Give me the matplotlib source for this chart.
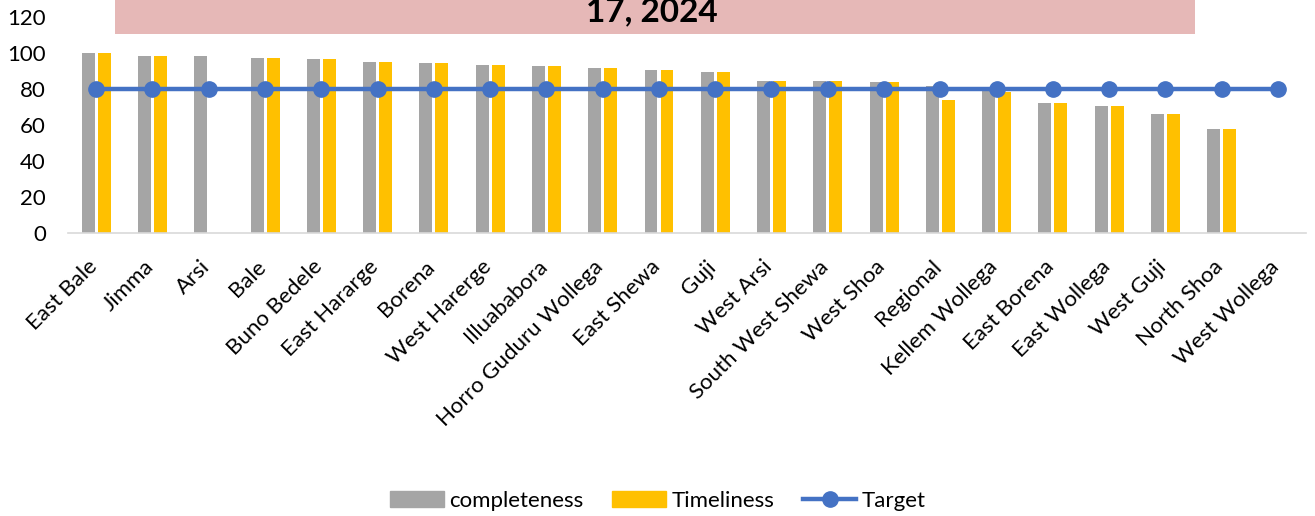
import matplotlib
matplotlib.use("Agg")
import matplotlib.pyplot as plt
import numpy as np
from matplotlib.patches import Rectangle, Patch
from matplotlib.lines import Line2D
from matplotlib.transforms import ScaledTranslation

categories = ["East Bale", "Jimma", "Arsi", "Bale", "Buno Bedele", "East Hararge",
              "Borena", "West Harerge", "Illuababora", "Horro Guduru Wollega",
              "East Shewa", "Guji", "West Arsi", "South West Shewa", "West Shoa",
              "Regional", "Kellem Wollega", "East Borena", "East Wollega",
              "West Guji", "North Shoa", "West Wollega"]
completeness = [100, 98.6, 98.1, 97.3, 96.6, 95.1, 94.2, 93.1, 92.9, 91.8,
                90.8, 89.4, 84.6, 84.2, 84.0, 81.8, 80.8, 72.5, 70.6, 66.0, 57.8, 0]
timeliness = [100, 98.6, 0, 97.3, 96.6, 95.1, 94.2, 93.1, 92.9, 91.8,
              90.8, 89.4, 84.6, 84.2, 84.0, 74.0, 78.6, 72.5, 70.6, 66.0, 57.8, 0]
target = [80] * len(categories)
title_text = "17, 2024"

plt.rcParams['font.family'] = ['Lato', 'DejaVu Sans']

fig = plt.figure(figsize=(13.15, 5.16), dpi=100)
ax = fig.add_axes([68/1315, 1-233/516, (1306-68)/1315, (233-17)/516])

x = np.arange(len(categories))
bw = 0.23
ax.bar(x - 0.14, completeness, width=bw, color="#A5A5A5", zorder=2)
ax.bar(x + 0.145, timeliness, width=bw, color="#FFC000", zorder=2)
ax.plot(x, target, color="#4472C4", lw=3.2, marker="o", markersize=11, zorder=3)

ax.set_ylim(0, 120)
ax.set_yticks(range(0, 121, 20))
ax.set_xlim(-0.5, len(categories) - 0.5)
ax.set_xticks(x)
ax.set_xticklabels(categories, rotation=45, ha="right", va="top",
                   rotation_mode="default", fontsize=16)
ax.tick_params(axis="both", length=0, labelsize=16)
ax.tick_params(axis="x", pad=17)
ax.tick_params(axis="y", pad=16)
shift = ScaledTranslation(5/100, 0, fig.dpi_scale_trans)
for lbl in ax.get_xticklabels():
    lbl.set_transform(lbl.get_transform() + shift)
for s in ["top", "right", "left"]:
    ax.spines[s].set_visible(False)
ax.spines["bottom"].set_color("#D9D9D9")
ax.spines["bottom"].set_linewidth(1.2)

# title box
fig.patches.append(Rectangle((115/1315, 1-34/516), (1195-115)/1315, 34/516,
                             transform=fig.transFigure, facecolor="#E6B8B7",
                             edgecolor="none", zorder=5))
fig.text(652/1315, 1-21.5/516, title_text, ha="center", va="baseline",
         fontsize=24, fontweight="bold", zorder=6)

handles = [Patch(color="#A5A5A5", label="completeness"),
           Patch(color="#FFC000", label="Timeliness"),
           Line2D([0], [0], color="#4472C4", lw=3.2, marker="o", markersize=11, label="Target")]
fig.legend(handles=handles, loc="center", bbox_to_anchor=(658/1315, 1-501/516),
           ncol=3, frameon=False, fontsize=16, handlelength=2.4, columnspacing=1.3,
           handletextpad=0.25, borderpad=0)

fig.savefig("out.png", dpi=100)
